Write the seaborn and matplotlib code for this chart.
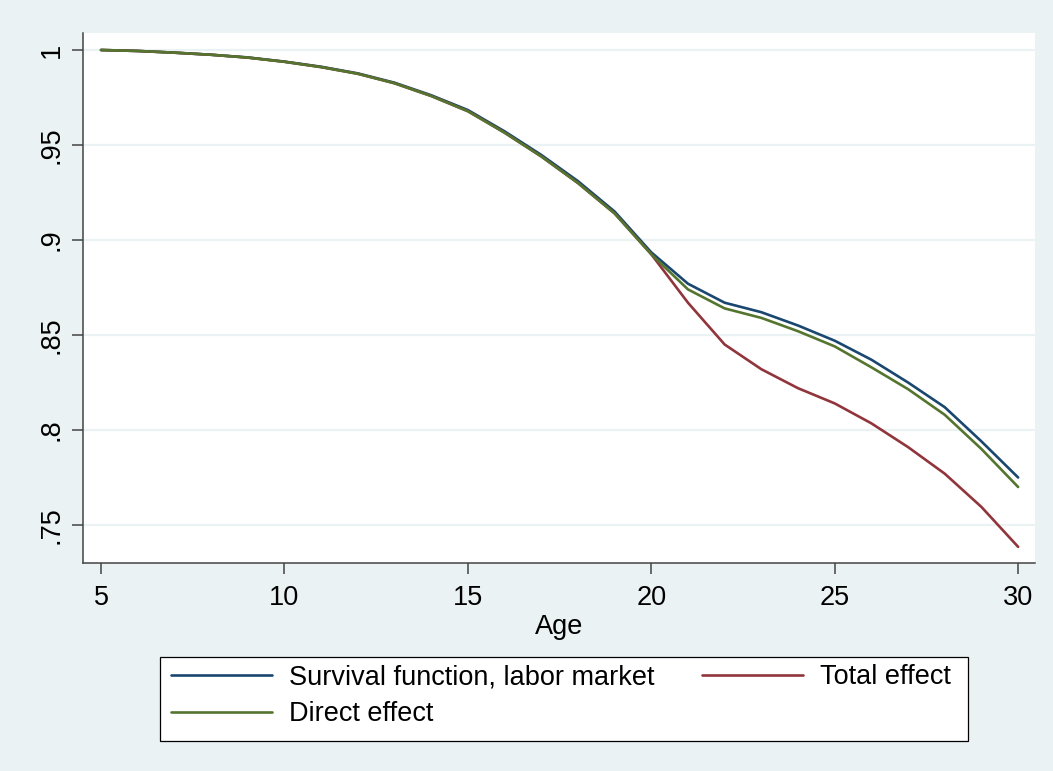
import numpy as np
import pandas as pd
import matplotlib
matplotlib.use("Agg")
import matplotlib.pyplot as plt
import seaborn as sns
from matplotlib.patches import Rectangle
from matplotlib.lines import Line2D

ages = list(range(5, 31))
survival = [1.0, 0.9995, 0.9986, 0.9975, 0.9961, 0.9939, 0.9912, 0.9877, 0.9828, 0.9762,
            0.9684, 0.9572, 0.9448, 0.9310, 0.9150, 0.8935, 0.877, 0.867, 0.862, 0.855,
            0.847, 0.837, 0.825, 0.812, 0.794, 0.775]
total = [1.0, 0.9995, 0.9986, 0.9975, 0.9960, 0.9938, 0.9910, 0.9875, 0.9825, 0.9758,
         0.9678, 0.9565, 0.9440, 0.9300, 0.9140, 0.8925, 0.867, 0.845, 0.832, 0.822,
         0.814, 0.8035, 0.791, 0.777, 0.7595, 0.7385]
direct = [1.0, 0.9995, 0.9986, 0.9975, 0.9960, 0.9938, 0.9910, 0.9875, 0.9825, 0.9758,
          0.9678, 0.9565, 0.9440, 0.9300, 0.9140, 0.8925, 0.874, 0.864, 0.859, 0.852,
          0.844, 0.833, 0.8215, 0.808, 0.790, 0.770]
labels = ["Survival function, labor market", "Total effect", "Direct effect"]
colors = ["#1a476f", "#90353b", "#55752f"]
xticks = [5, 10, 15, 20, 25, 30]
yticks = [0.75, 0.8, 0.85, 0.9, 0.95, 1.0]
ytick_labels = [".75", ".8", ".85", ".9", ".95", "1"]

df = pd.DataFrame({
    "Age": ages * 3,
    "value": survival + total + direct,
    "series": [labels[0]] * len(ages) + [labels[1]] * len(ages) + [labels[2]] * len(ages),
})

sns.set_theme(style="white")
plt.rcParams["font.family"] = ["Liberation Sans", "DejaVu Sans"]
plt.rcParams["text.color"] = "black"

bg = "#eaf2f3"
fs = 19.5
fig = plt.figure(figsize=(10.53, 7.71), dpi=100, facecolor=bg)
ax = fig.add_axes([83 / 1053, 1 - 563 / 771, (1035 - 83) / 1053, (563 - 33) / 771])
ax.set_facecolor("white")

for yv in yticks:
    ax.axhline(yv, color=bg, lw=1.6, zorder=0)

for lab, col in zip(labels, colors):
    sns.lineplot(data=df[df["series"] == lab], x="Age", y="value", color=col,
                 lw=1.9, ax=ax, legend=False, zorder=3)

ax.set_xlim(4.509, 30.46)
ax.set_ylim(0.73, 1.00895)
ax.set_xticks(xticks)
ax.set_xticklabels([str(t) for t in xticks])
ax.set_yticks(yticks)
ax.set_yticklabels(ytick_labels, rotation=90, va="center")
ax.tick_params(axis="both", which="major", direction="out", length=8, width=1.1,
               color="#444444", labelsize=fs, labelcolor="black", pad=8,
               left=True, bottom=True)
ax.tick_params(axis="y", pad=5)
ax.set_xlabel("Age", fontsize=fs, labelpad=2, color="black")
ax.set_ylabel("")
for s in ["top", "right"]:
    ax.spines[s].set_visible(False)
for s in ["left", "bottom"]:
    ax.spines[s].set_color("#444444")
    ax.spines[s].set_linewidth(1.1)

# legend box
fig.patches.append(Rectangle((160 / 1053, 1 - 741 / 771), (968 - 160) / 1053, (741 - 657) / 771,
                             transform=fig.transFigure, facecolor="white",
                             edgecolor="black", lw=0.9, zorder=1))
handles = [Line2D([], [], color=colors[0], lw=1.9),
           Line2D([], [], color=colors[2], lw=1.9),
           Line2D([], [], color=colors[1], lw=1.9)]
leg_labels = [labels[0], labels[2], labels[1]]
leg = fig.legend(handles, leg_labels, loc="upper left",
                 bbox_to_anchor=(166 / 1053, 1 - 659 / 771), ncol=2, frameon=False,
                 fontsize=fs, handlelength=3.7, handletextpad=0.63, columnspacing=1.78,
                 labelspacing=0.4, borderaxespad=0, borderpad=0.2)
leg.set_zorder(5)

fig.savefig("out.png", dpi=100, facecolor=bg)
